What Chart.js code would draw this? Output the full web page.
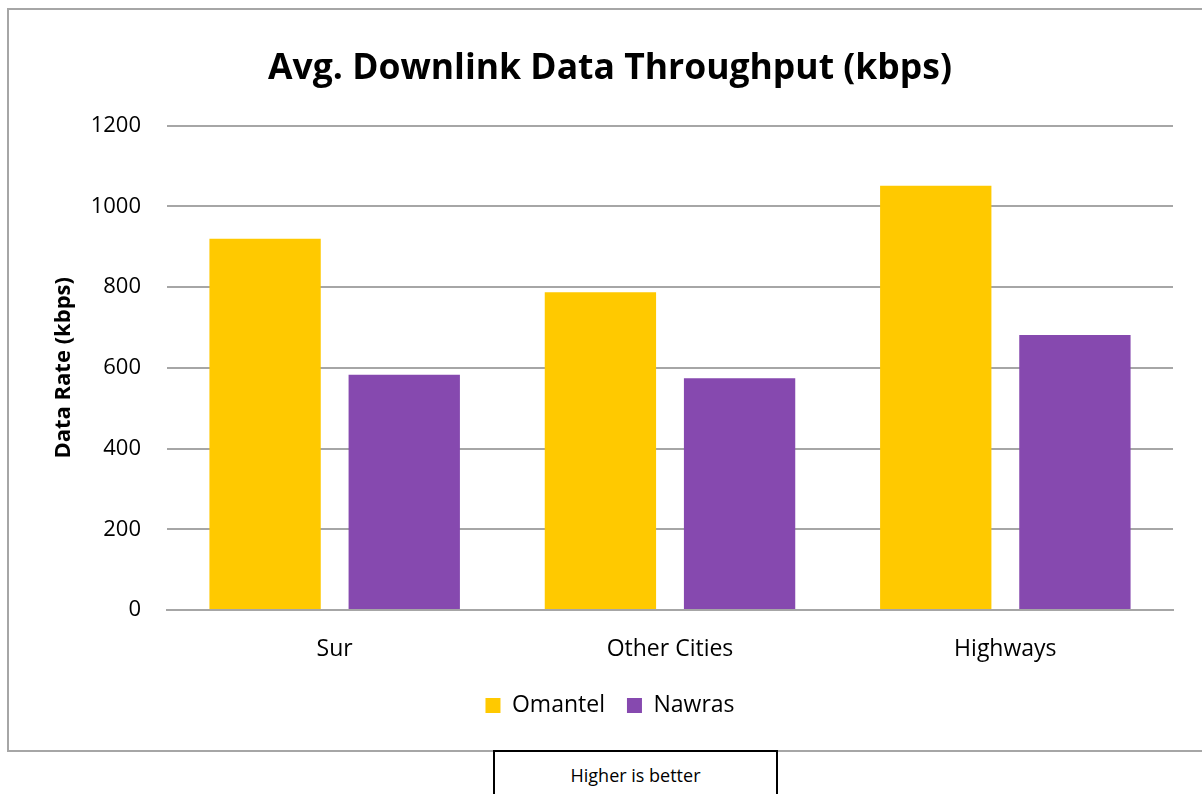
<!DOCTYPE html>
<html>
<head>
<meta charset="utf-8">
<script src="https://cdn.jsdelivr.net/npm/chart.js@4.4.1/dist/chart.umd.min.js"></script>
<style>
  html, body { margin: 0; padding: 0; background: #fff; }
  body { width: 1202px; height: 794px; position: relative; overflow: hidden; font-family: "Open Sans", sans-serif; }
  .frame { position: absolute; left: 7px; top: 8px; width: 1210px; height: 744px; border: 2px solid #a6a6a6; box-sizing: border-box; }
  .wrap { position: absolute; left: 0; top: 0; width: 1202px; height: 794px; }
  .note { position: absolute; left: 493px; top: 750px; width: 285px; height: 60px; border: 2px solid #000; box-sizing: border-box; background: #fff;
          text-align: center; font-size: 18px; padding-top: 11px; color: #000; }
</style>
</head>
<body>
<div class="frame"></div>
<div class="wrap"><canvas id="myChart" width="1202" height="794"></canvas></div>
<div class="note">Higher is better</div>
<script>
// chart data
const categories = ["Sur", "Other Cities", "Highways"];
const omantel = [920, 787, 1051];
const nawras = [583, 574, 681];
const yTicks = [0, 200, 400, 600, 800, 1000, 1200];

const ctx = document.getElementById("myChart");
new Chart(ctx, {
  type: "bar",
  data: {
    labels: categories,
    datasets: [
      { label: "Omantel", data: omantel, backgroundColor: "#FFC900", borderWidth: 0 },
      { label: "Nawras", data: nawras, backgroundColor: "#8649AF", borderWidth: 0 }
    ]
  },
  options: {
    responsive: false,
    animation: false,
    categoryPercentage: 0.83,
    barPercentage: 0.8,
    layout: { padding: { left: 18, right: 0, top: 0, bottom: 67 } },
    plugins: {
      tooltip: { enabled: false },
      title: {
        display: true,
        text: "Avg. Downlink Data Throughput (kbps)",
        color: "#000",
        font: { family: "Open Sans", size: 35.5, weight: "bold" },
        padding: { top: 48, bottom: 35 }
      },
      legend: {
        position: "bottom",
        labels: {
          color: "#000",
          font: { family: "Open Sans", size: 23 },
          boxWidth: 15,
          boxHeight: 15,
          padding: 22
        }
      }
    },
    scales: {
      x: {
        grid: { display: false },
        border: { color: "#a6a6a6", width: 2 },
        ticks: { color: "#000", font: { family: "Open Sans", size: 23 }, padding: 18 },
        afterFit: (scale) => { scale.height = 62; }
      },
      y: {
        min: 0,
        max: 1200,
        afterBuildTicks: (scale) => { scale.ticks = yTicks.map(v => ({ value: v })); },
        grid: { color: "#a6a6a6", lineWidth: 2, drawTicks: false },
        border: { display: false },
        ticks: { color: "#000", font: { family: "Open Sans", size: 22 }, padding: 26, callback: (v) => String(v) },
        title: {
          display: true,
          text: "Data Rate (kbps)",
          color: "#000",
          font: { family: "Open Sans", size: 22, weight: "bold" },
          padding: { top: 33, bottom: 0 }
        },
        afterFit: (scale) => { scale.width = 149; }
      },
      // blank right axis only to reserve space so the title centres like the original
      y2: {
        position: "right",
        grid: { display: false },
        border: { display: false },
        ticks: { display: false },
        afterFit: (scale) => { scale.width = 29; }
      }
    }
  }
});
</script>
</body>
</html>
